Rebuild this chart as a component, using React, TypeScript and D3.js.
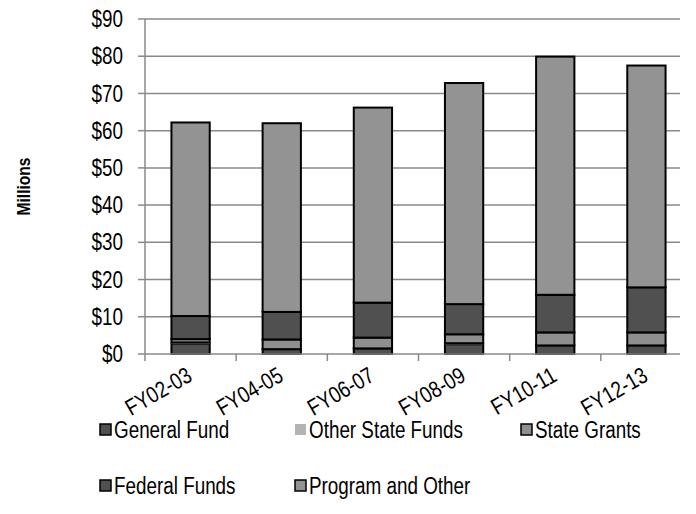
import { useEffect, useRef } from 'react';
import * as d3 from 'd3';

const years = ['FY02-03', 'FY04-05', 'FY06-07', 'FY08-09', 'FY10-11', 'FY12-13'];
const seriesNames = ['General Fund', 'Other State Funds', 'State Grants', 'Federal Funds', 'Program and Other'];
const generalFund = [2.8, 1.3, 1.5, 2.6, 2.3, 2.3];
const otherStateFunds = [0.3, 0, 0, 0.3, 0, 0];
const stateGrants = [0.9, 2.6, 2.9, 2.4, 3.5, 3.5];
const federalFunds = [6.2, 7.4, 9.4, 8.1, 10.1, 12.1];
const programOther = [52.0, 50.7, 52.4, 59.4, 64.0, 59.6];
const yTicks = [0, 10, 20, 30, 40, 50, 60, 70, 80, 90];

const fills = ['#505050', '#b3b3b3', '#8f8f8f', '#505050', '#939393'];
const strokes = ['#000', 'none', '#000', '#000', '#000'];
const FONT = "'Liberation Sans', Arial, sans-serif";
// narrow look: Liberation Sans squeezed horizontally
const SQ = 'scale(0.82,1)';
const FS = 23;

export default function App() {
  const svgRef = useRef<SVGSVGElement>(null);

  useEffect(() => {
    const svg = d3.select(svgRef.current);
    svg.selectAll('*').remove();

    const W = 696, H = 514;
    const left = 145, right = 692, top = 19, bottom = 354;

    const x = d3.scaleBand<string>().domain(years).range([left, right])
      .paddingInner(0.58).paddingOuter(0.29);
    const y = d3.scaleLinear().domain([0, 90]).range([bottom, top]);

    const rows = years.map((yr, i) => ({
      year: yr,
      'General Fund': generalFund[i],
      'Other State Funds': otherStateFunds[i],
      'State Grants': stateGrants[i],
      'Federal Funds': federalFunds[i],
      'Program and Other': programOther[i],
    }));
    const stacked = d3.stack<any>().keys(seriesNames)(rows);

    // gridlines
    svg.append('g').selectAll('line').data(yTicks.slice(1)).join('line')
      .attr('x1', left).attr('x2', 680)
      .attr('y1', d => y(d)).attr('y2', d => y(d))
      .attr('stroke', '#8a8a8a').attr('stroke-width', 1.5);

    // y axis
    svg.append('line').attr('x1', left).attr('x2', left).attr('y1', top).attr('y2', bottom)
      .attr('stroke', '#8a8a8a').attr('stroke-width', 1.5);
    svg.append('g').selectAll('line').data(yTicks).join('line')
      .attr('x1', left - 7).attr('x2', left)
      .attr('y1', d => y(d)).attr('y2', d => y(d))
      .attr('stroke', '#8a8a8a').attr('stroke-width', 1.5);
    svg.append('g').selectAll('text').data(yTicks).join('text')
      .attr('transform', d => `translate(123,${y(d)}) ${SQ}`).attr('dy', '0.35em')
      .attr('text-anchor', 'end').attr('font-family', FONT).attr('font-size', FS)
      .attr('fill', '#000').text(d => `$${d}`);

    // bars
    stacked.forEach((s, si) => {
      svg.append('g').selectAll('rect').data(s).join('rect')
        .attr('x', (d: any) => x(d.data.year)!)
        .attr('width', x.bandwidth())
        .attr('y', d => y(d[1]))
        .attr('height', d => Math.max(0, y(d[0]) - y(d[1])))
        .attr('fill', fills[si])
        .attr('stroke', strokes[si])
        .attr('stroke-width', strokes[si] === 'none' ? 0 : 2);
    });

    // x axis
    svg.append('line').attr('x1', left).attr('x2', 680).attr('y1', bottom).attr('y2', bottom)
      .attr('stroke', '#8a8a8a').attr('stroke-width', 1.5);
    const step = x.step();
    const tickXs = years.map(yr => x(yr)! + x.bandwidth() / 2 - step / 2);
    svg.append('g').selectAll('line').data(tickXs).join('line')
      .attr('x1', d => d).attr('x2', d => d).attr('y1', bottom).attr('y2', bottom + 7)
      .attr('stroke', '#8a8a8a').attr('stroke-width', 1.5);
    svg.append('g').selectAll('text').data(years).join('text')
      .attr('transform', d => `translate(${x(d)! + x.bandwidth() / 2 + 3},${bottom + 26}) rotate(-30) ${SQ}`)
      .attr('text-anchor', 'end').attr('font-family', FONT).attr('font-size', FS)
      .attr('fill', '#000').text(d => d);

    // y label
    svg.append('text').attr('transform', `translate(30,${(top + bottom) / 2}) rotate(-90) ${SQ}`)
      .attr('text-anchor', 'middle').attr('font-family', FONT).attr('font-size', 19)
      .attr('font-weight', 'bold').attr('fill', '#000').text('Millions');

    // legend
    const legendPos = [[100, 430], [295, 430], [521, 430], [100, 486], [295, 486]];
    seriesNames.forEach((name, i) => {
      const [lx, ly] = legendPos[i];
      const g = svg.append('g').attr('transform', `translate(${lx},${ly})`);
      g.append('rect').attr('x', 0).attr('y', -6).attr('width', 11).attr('height', 11)
        .attr('fill', fills[i]).attr('stroke', strokes[i])
        .attr('stroke-width', strokes[i] === 'none' ? 0 : 1.5);
      g.append('text').attr('transform', `translate(14,0) ${SQ}`).attr('dy', '0.36em')
        .attr('font-family', FONT).attr('font-size', FS).attr('fill', '#000').text(name);
    });

    svg.attr('width', W).attr('height', H);
  }, []);

  return (
    <svg ref={svgRef} width={696} height={514}
      style={{ position: 'absolute', left: 0, top: 0, background: '#fff' }} />
  );
}
